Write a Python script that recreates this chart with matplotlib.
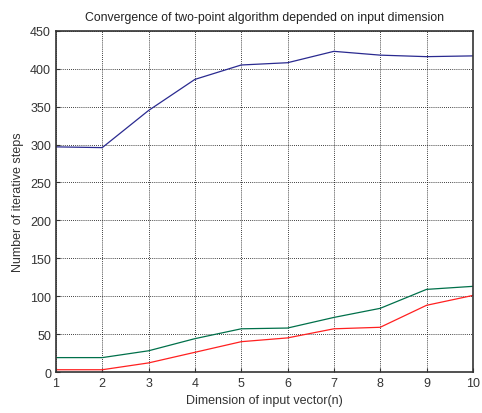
import matplotlib
matplotlib.use("Agg")
import matplotlib.pyplot as plt

dims = [1, 2, 3, 4, 5, 6, 7, 8, 9, 10]
steps_blue = [297, 296, 345, 386, 405, 408, 423, 418, 416, 417]
steps_green = [19, 19, 28, 44, 57, 58, 72, 84, 109, 113]
steps_red = [3, 3, 12, 26, 40, 45, 57, 59, 88, 101]

plt.rcParams["font.family"] = ["Liberation Sans", "DejaVu Sans"]

fig = plt.figure(figsize=(4.82, 4.14), dpi=100)
ax = fig.add_axes([0.116, 0.099, 0.865, 0.824])

ax.plot(dims, steps_blue, color="#2a2a90", lw=0.9)
ax.plot(dims, steps_green, color="#00704a", lw=0.9)
ax.plot(dims, steps_red, color="#ff2020", lw=0.9)

ax.set_xlim(1, 10)
ax.set_ylim(0, 450)
ax.set_xticks(dims)
ax.set_yticks(range(0, 451, 50))
ax.grid(True, color="black", linestyle=(0, (1, 1.5)), lw=0.6)
ax.tick_params(direction="in", labelsize=9, colors="#333333", length=3)
for sp in ax.spines.values():
    sp.set_color("#333333")
    sp.set_linewidth(1.2)

ax.set_title("Convergence of two-point algorithm depended on input dimension",
             fontsize=8.8, color="#222222", pad=8)
ax.set_xlabel("Dimension of input vector(n)", fontsize=9, color="#333333")
ax.set_ylabel("Number of iterative steps", fontsize=9, color="#333333")

fig.savefig("out.png", dpi=100)
